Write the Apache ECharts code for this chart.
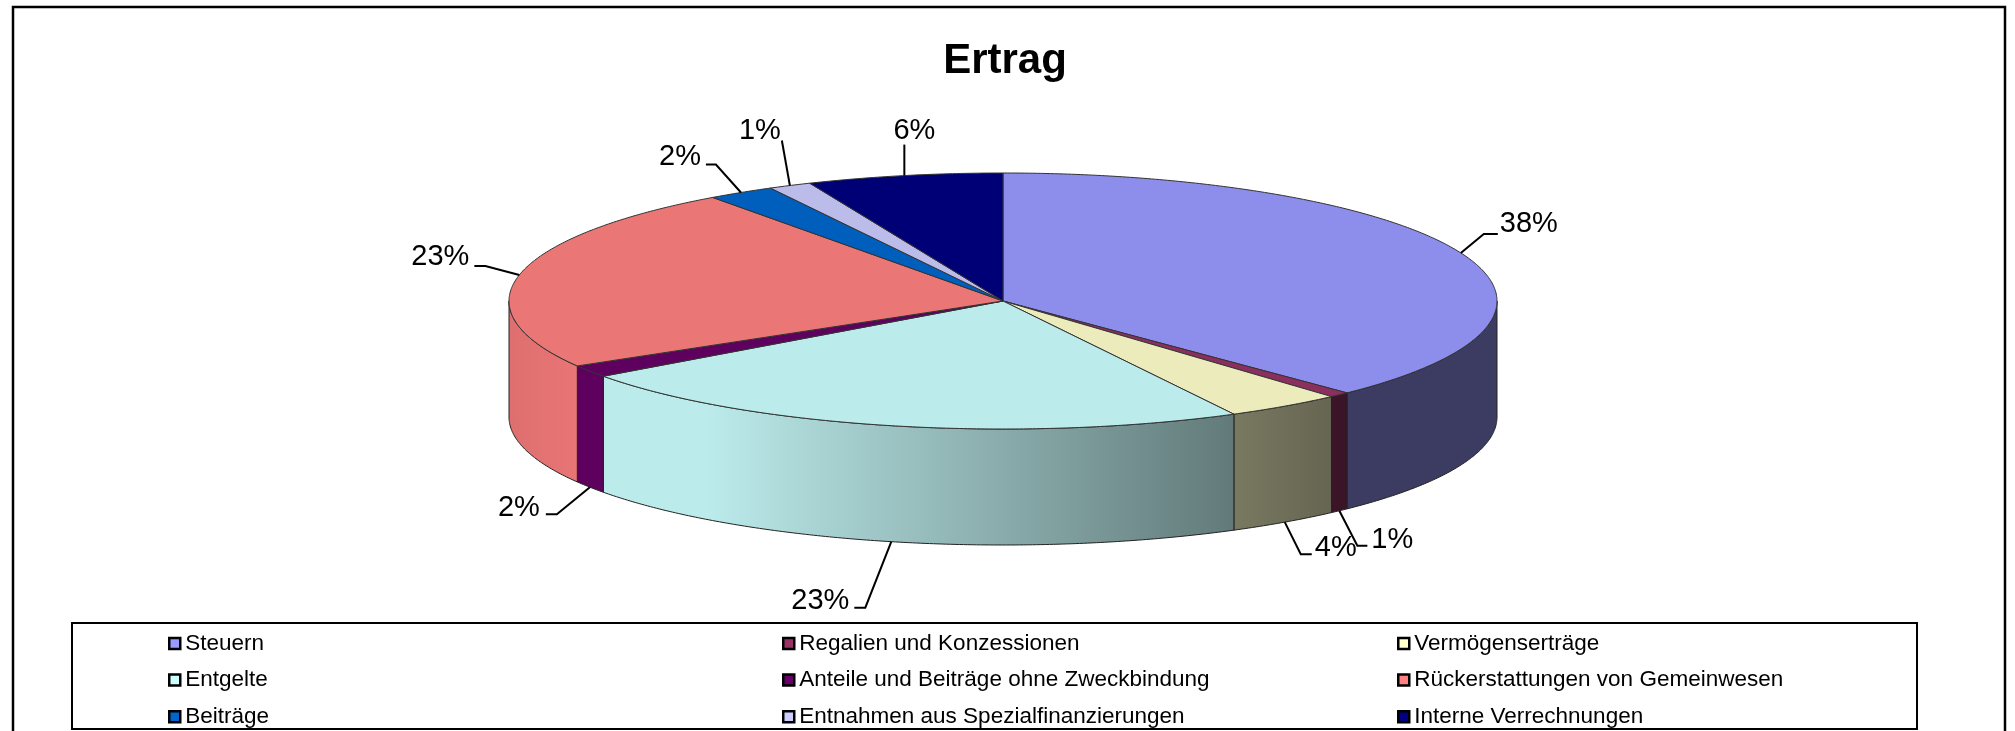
<!DOCTYPE html>
<html>
<head>
<meta charset="utf-8">
<style>
	html, body { margin: 0; padding: 0; background: #fff; }
	#chart { width: 2015px; height: 731px; }
</style>
<script src="https://cdn.jsdelivr.net/npm/echarts@6/dist/echarts.min.js"></script>
</head>
<body>
<div id="chart"></div>
<script>
const title = 'Ertrag';
const categories = [
	'Steuern', 'Regalien und Konzessionen', 'Vermögenserträge',
	'Entgelte', 'Anteile und Beiträge ohne Zweckbindung', 'Rückerstattungen von Gemeinwesen',
	'Beiträge', 'Entnahmen aus Spezialfinanzierungen', 'Interne Verrechnungen'
];
// Prozent, aus dem Bild geschätzt (Beschriftung = gerundet)
const values = [37.74, 0.68, 3.84, 22.74, 1.53, 23.47, 2.2, 1.4, 6.4];
const colors = ['#9999ff', '#993366', '#ffffcc', '#ccffff', '#660066', '#ff8080', '#0066cc', '#ccccff', '#000080'];

// Zylinder: Mitte, Halbachsen, Höhe
const FONT = '"Liberation Sans", Arial, sans-serif';
const cx = 1003, cy = 301, rx = 494, ry = 128, depth = 116;
const TOP_SHADE = 0.92;
// Helligkeit der Seitenwand über die Breite der Ellipse
const sideShade = [[0, 0.87], [0.08, 0.92], [0.2, 0.92], [0.84, 0.39], [1, 0.39]];

// Führungslinien relativ zum Ankerpunkt: [Knick dx, Knick dy, Ende dx, Text dx, Text dy, Ausrichtung]
const leaders = [
	[23, -19, 14, 2, -10, 'left'],
	[18, 35, 10, 4, -6, 'left'],
	[16, 32, 11, 3, -6, 'left'],
	[-26, 66, -11, -5, -7, 'right'],
	[-33, 27, -11, -6, -6, 'right'],
	[-34, -9, -11, -5, -9, 'right'],
	[-25, -28, -10, -5, -7, 'right'],
	[-8, -45, 0, -1, -10, 'right'],
	[0, -31, 0, 10, -14, 'center']
];

function shade(hex, f) {
	const c = echarts.color.parse(hex);
	return 'rgb(' + Math.round(c[0] * f) + ',' + Math.round(c[1] * f) + ',' + Math.round(c[2] * f) + ')';
}

// Winkel im Uhrzeigersinn von 12 Uhr
function rim(deg, dy) {
	const a = deg * Math.PI / 180;
	return [cx + rx * Math.sin(a), cy - ry * Math.cos(a) + (dy || 0)];
}

function arc(from, to, dy) {
	const pts = [];
	const n = Math.max(2, Math.ceil(Math.abs(to - from) * 2));
	for (let i = 0; i <= n; i++) pts.push(rim(from + (to - from) * i / n, dy));
	return pts;
}

const total = values.reduce((s, v) => s + v, 0);
let cum = 0;
const angles = values.map(v => {
	const a0 = cum / total * 360;
	cum += v;
	return [a0, cum / total * 360];
});

function renderSlice(i) {
	const [a0, a1] = angles[i];
	const children = [];
	// Vorderwand nur zwischen 90 und 270 Grad sichtbar
	const s0 = Math.max(a0, 90), s1 = Math.min(a1, 270);
	if (s1 > s0) {
		const fill = new echarts.graphic.LinearGradient(cx - rx, 0, cx + rx, 0,
			sideShade.map(s => ({ offset: s[0], color: shade(colors[i], s[1]) })), true);
		children.push({
			type: 'polygon',
			shape: { points: arc(s0, s1, 0).concat(arc(s1, s0, depth)) },
			style: { fill: fill, stroke: '#222', lineWidth: 1 }
		});
	}
	children.push({
		type: 'polygon',
		shape: { points: [[cx, cy]].concat(arc(a0, a1, 0)) },
		style: { fill: shade(colors[i], TOP_SHADE), stroke: '#333', lineWidth: 1 }
	});
	// Führungslinie und Prozentwert
	const mid = (a0 + a1) / 2;
	const p = rim(mid, mid > 90 && mid < 270 ? depth : 0);
	const l = leaders[i];
	const knee = [p[0] + l[0], p[1] + l[1]];
	const end = [knee[0] + l[2], knee[1]];
	children.push({
		type: 'polyline',
		shape: { points: [p, knee, end] },
		style: { fill: null, stroke: '#000', lineWidth: 2 }
	});
	children.push({
		type: 'text',
		style: {
			text: Math.round(values[i] / total * 100) + '%',
			x: end[0] + l[3], y: end[1] + l[4],
			align: l[5], verticalAlign: 'middle',
			font: '29px ' + FONT, fill: '#000'
		}
	});
	return { type: 'group', children: children };
}

const series = categories.map((name, i) => ({
	type: 'custom',
	name: name,
	coordinateSystem: 'none',
	data: [values[i]],
	silent: true,
	color: colors[i],
	renderItem: () => renderSlice(i)
}));

function legendColumn(left, names) {
	return {
		orient: 'vertical',
		left: left,
		top: 632,
		height: 98,
		padding: 0,
		itemWidth: 11,
		itemHeight: 11,
		itemGap: 13.6,
		icon: 'rect',
		selectedMode: false,
		textStyle: { fontFamily: FONT, fontSize: 22.5, color: '#000' },
		itemStyle: { borderColor: '#000', borderWidth: 2.5 },
		data: names
	};
}

const chart = echarts.init(document.getElementById('chart'));
chart.setOption({
	animation: false,
	backgroundColor: '#fff',
	title: {
		text: title,
		left: 1005,
		top: 40,
		textAlign: 'center',
		padding: 0,
		textStyle: { fontFamily: FONT, fontSize: 42, fontWeight: 'bold', color: '#000' }
	},
	legend: [
		legendColumn(168, [categories[0], categories[3], categories[6]]),
		legendColumn(782, [categories[1], categories[4], categories[7]]),
		legendColumn(1397, [categories[2], categories[5], categories[8]])
	],
	graphic: [
		{ type: 'polyline', silent: true, shape: { points: [[13, 731], [13, 7], [2005, 7], [2005, 731]] }, style: { fill: null, stroke: '#000', lineWidth: 2.5 } },
		{ type: 'rect', silent: true, shape: { x: 72, y: 623, width: 1845, height: 106 }, style: { fill: null, stroke: '#000', lineWidth: 2 } }
	],
	series: series
});
</script>
</body>
</html>
